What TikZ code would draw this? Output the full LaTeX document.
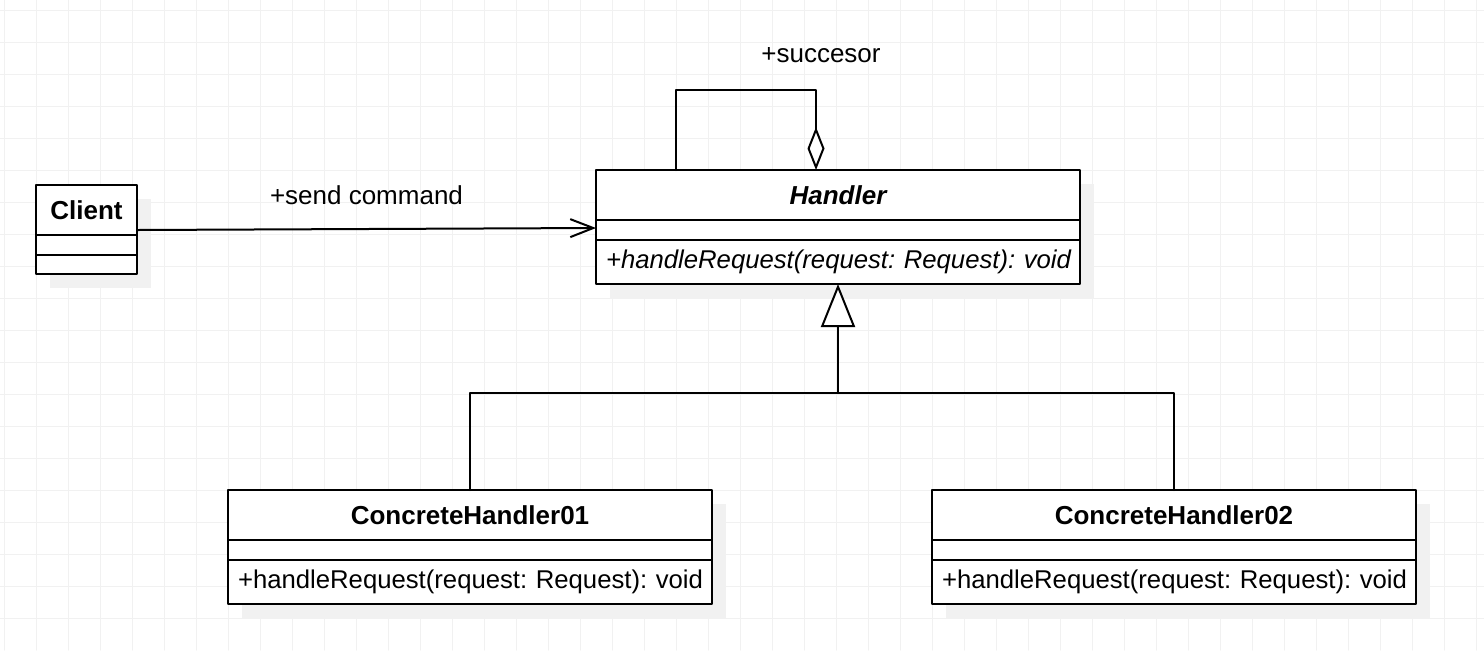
\documentclass[tikz,border=0pt]{standalone}
\usepackage{fontspec}
\setmainfont{Liberation Sans}
\usetikzlibrary{arrows.meta, calc, positioning, shadows}
\definecolor{gridgray}{RGB}{241,241,241}
\definecolor{shadowgray}{RGB}{241,241,241}
\AtBeginDocument{\frenchspacing}

\begin{document}
\begin{tikzpicture}[x=0.5pt, y=-0.5pt, line cap=round, line join=round,
    umlfont/.style={font=\fontsize{13}{15}\selectfont},
    gridline/.style={gridgray, line width=0.5pt},
    compart/.style={draw, fill=white, line width=1pt, inner sep=0pt, outer sep=0pt, umlfont,
        drop shadow={shadow xshift=7pt, shadow yshift=-7pt, fill=shadowgray, opacity=1}},
    classhead/.style={compart, minimum width=#1, minimum height=25pt, font=\fontsize{13}{15}\selectfont\bfseries},
    classattr/.style={compart, minimum width=#1, minimum height=10pt},
    classmeth/.style={compart, minimum width=242pt, minimum height=22pt, text width=242pt, align=left,
        font=\fontsize{12.85}{15}\selectfont, execute at begin node=\hspace*{5pt}},
    assoc/.style={line width=1pt, -{Straight Barb[length=11.5pt, width=9pt]}},
    aggr/.style={line width=1pt, -{Diamond[open, fill=white, length=21.5pt, width=8.5pt]}},
    inherit/.style={line width=1pt, -{Triangle[open, fill=white, length=21.5pt, width=17pt]}},
    umllabel/.style={umlfont, inner sep=0pt}]
		\useasboundingbox (0,0) rectangle (1484,650);
		% background grid
		\foreach \gx in {4.3,36.3,...,1484} \draw[gridline] (\gx,0) -- (\gx,650);
		\foreach \gy in {10.3,42.3,...,650} \draw[gridline] (0,\gy) -- (1484,\gy);

		% Client
		\node[classhead=50.5pt, anchor=north west] (chead) at (36,185) {Client};
		\node[classattr=50.5pt, below=0pt of chead] (cattr) {};
		\node[classattr=50.5pt, minimum height=9.5pt, below=0pt of cattr] (cmeth) {};

		% Handler (abstract)
		\node[classhead=242pt, anchor=north west, font=\fontsize{13}{15}\selectfont\bfseries\itshape] (hhead) at (596,170) {Handler};
		\node[classattr=242pt, below=0pt of hhead] (hattr) {};
		\node[classmeth, below=0pt of hattr, font=\fontsize{12.85}{15}\selectfont\itshape] (hmeth) {+handleRequest(request: Request): void};

		% concrete handlers
		\foreach \n/\x in {01/228, 02/932} {
			\node[classhead=242pt, anchor=north west] (ch\n head) at (\x,490) {ConcreteHandler\n};
			\node[classattr=242pt, below=0pt of ch\n head] (ch\n attr) {};
			\node[classmeth, below=0pt of ch\n attr] (ch\n meth) {+handleRequest(request: Request): void};
		}

		% client -> handler
		\draw[assoc] ($(chead.north east)+(0,45)$) -- ($(hhead.north west)+(0,58)$) node[umllabel, midway, above=11.5pt] {+send command};

		% successor link
		\coordinate (loopL) at ($(hhead.north west)+(80,0)$);
		\coordinate (loopR) at ($(hhead.north west)+(220,0)$);
		\draw[aggr] (loopL) -- ++(0,-80) -| (loopR);
		\node[umllabel, anchor=base] (succlbl) at ($(loopR)+(5,-108)$) {+succesor};

		% generalization
		\coordinate (fork) at ($(hmeth.south)+(0,109)$);
		\draw[line width=1pt] (ch01head.north) |- (fork) -| (ch02head.north);
		\draw[inherit] (fork) -- (hmeth.south);
\end{tikzpicture}
\end{document}
